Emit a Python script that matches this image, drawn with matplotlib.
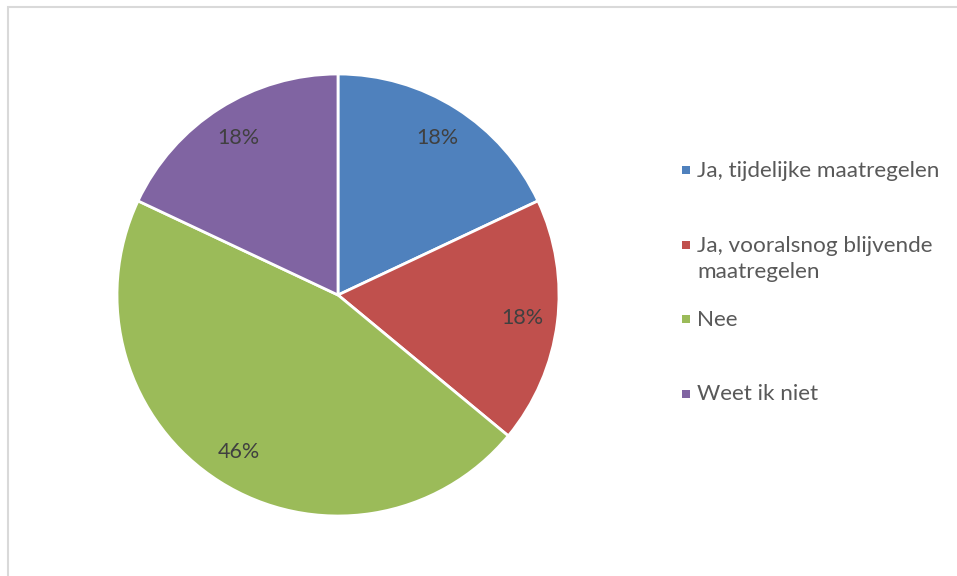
import matplotlib.pyplot as plt
from matplotlib.patches import Rectangle

labels = ['Ja, tijdelijke maatregelen', 'Ja, vooralsnog blijvende\nmaatregelen', 'Nee', 'Weet ik niet']
values = [18, 18, 46, 18]
colors = ['#4F81BD', '#C0504D', '#9BBB59', '#8064A2']

plt.rcParams['font.family'] = ['Lato', 'DejaVu Sans']

fig = plt.figure(figsize=(9.57, 5.76), dpi=100)

# chart area border
fig.patches.append(Rectangle((8 / 957, -0.1), 1.1, 1 - 7 / 576 + 0.1, transform=fig.transFigure,
                             fill=False, edgecolor='#d9d9d9', linewidth=1.5))

ax = fig.add_axes([117 / 957, 60 / 576, 442 / 957, 442 / 576])
wedges, texts = ax.pie(values, colors=colors, startangle=90, counterclock=False, radius=1,
                       labels=[f'{v}%' for v in values], labeldistance=0.84,
                       wedgeprops=dict(edgecolor='white', linewidth=2),
                       textprops=dict(color='#404040', fontsize=15.5, ha='center', va='center'))
ax.set_xlim(-1, 1)
ax.set_ylim(-1, 1)
ax.set_aspect('equal')
ax.axis('off')

# legend, Excel-style slots
y0 = 163
step = 74.5
for i, (lab, c) in enumerate(zip(labels, colors)):
    ytop = y0 + i * step
    fig.patches.append(Rectangle((682 / 957, 1 - (ytop + 11) / 576), 8 / 957, 8 / 576,
                                 transform=fig.transFigure, facecolor=c, edgecolor='none'))
    fig.text(697 / 957, 1 - (ytop - 2) / 576, lab, color='#595959', fontsize=16.2,
             ha='left', va='top', linespacing=1.38)

fig.savefig('out.png', dpi=100)
